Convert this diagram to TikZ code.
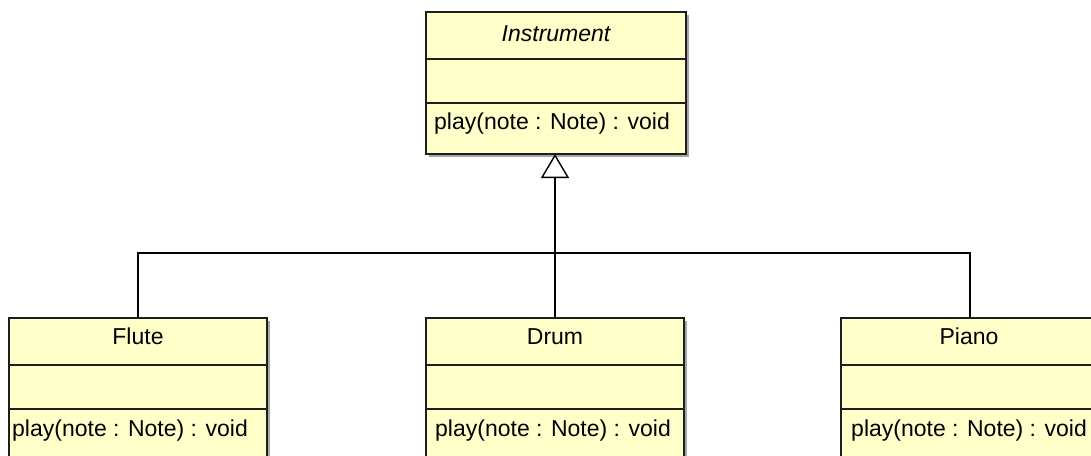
\documentclass[tikz,border=0pt]{standalone}
\usepackage{fontspec}
\setmainfont{Liberation Sans}
\usetikzlibrary{arrows.meta,shadows}
\definecolor{classfill}{RGB}{255,255,202}
\definecolor{classline}{RGB}{30,30,30}
\tikzset{
  classbox/.style={draw=classline, line width=1.7pt, fill=classfill,
    anchor=north west, minimum width=258pt, minimum height=142pt,
    inner sep=0pt, outer sep=0pt,
    drop shadow={shadow xshift=2.5pt, shadow yshift=-2.5pt, opacity=0.35, fill=black}},
  divider/.style={draw=classline, line width=1.7pt},
  classname/.style={anchor=base, inner sep=0pt, font=\fontsize{23}{27}\selectfont},
  member/.style={anchor=base west, inner sep=0pt, font=\fontsize{23}{27}\selectfont},
  link/.style={draw=black, line width=1.8pt},
  inherits/.style={link, -{Triangle[open, length=24pt, width=28pt, line width=1.4pt, fill=white]}}
}
\newcommand{\compartments}[1]{%
  \draw[divider] ([yshift=-47pt]#1.north west) -- ([yshift=-47pt]#1.north east);
  \draw[divider] ([yshift=-91pt]#1.north west) -- ([yshift=-91pt]#1.north east);}
\begin{document}
\begin{tikzpicture}[x=1pt, y=-1pt]
  \useasboundingbox (0,0) rectangle (1091,455);
  \clip (0,0) rectangle (1091,455);

  % class boxes
  \node[classbox, minimum width=260pt] (instr) at (426,12) {};
  \node[classbox] (flute) at (9,318) {};
  \node[classbox] (drum)  at (426,318) {};
  \node[classbox] (piano) at (841,318) {};
  \compartments{instr}
  \compartments{flute}
  \compartments{drum}
  \compartments{piano}

  % names
  \node[classname] (instrname) at (556,41) {\itshape Instrument};
  \node[classname] (flutename) at (138,344) {Flute};
  \node[classname] (drumname)  at (555,344) {Drum};
  \node[classname] (pianoname) at (969,344) {Piano};

  % operations
  \node[member] (instrop) at (434,129) {play(note : Note) : void};
  \node[member] (fluteop) at (12,436) {play(note : Note) : void};
  \node[member] (drumop)  at (435,436) {play(note : Note) : void};
  \node[member] (pianoop) at (851,436) {play(note : Note) : void};

  % generalisation tree
  \coordinate (bus) at (drum.north |- 0,253);
  \draw[inherits] (drum.north) -- (drum.north |- instr.south);
  \draw[link] (flute.north) |- (bus) -| (piano.north);
\end{tikzpicture}
\end{document}
